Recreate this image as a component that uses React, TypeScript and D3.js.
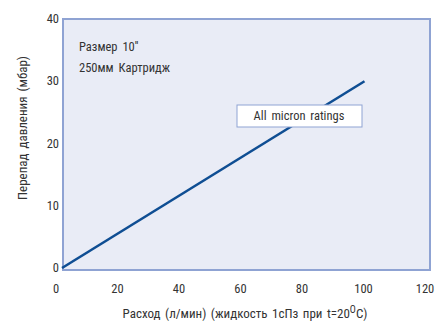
import React from "react";
import * as d3 from "d3";

const flowValues = [0, 100];
const pressureValues = [0, 30];
const xTicks = [0, 20, 40, 60, 80, 100, 120];
const yTicks = [0, 10, 20, 30, 40];
const infoLines = ["Размер 10''", "250мм Картридж"];
const seriesLabel = "All micron ratings";
const yTitle = "Перепад давления (мбар)";

const W = 437;
const H = 322;
const FONT = "'Liberation Sans Narrow', 'Arial Narrow', 'Roboto Condensed', Roboto, sans-serif";
const TXT = "#333";

export default function App() {
  const x = d3.scaleLinear().domain([0, 120]).range([62, 425]);
  const y = d3.scaleLinear().domain([0, 40]).range([268, 19]);
  const pts = flowValues.map((f, i) => [x(f), y(pressureValues[i])] as [number, number]);
  const line = d3.line()(pts) || "";
  const frameL = 63, frameR = 430, frameT = 19, frameB = 270;

  return (
    <div style={{ position: "absolute", left: 0, top: 0 }}>
      <svg width={W} height={H} style={{ display: "block", background: "#fff" }} fontFamily={FONT}>
        <rect x={frameL} y={frameT} width={frameR - frameL} height={frameB - frameT}
          fill="#E9ECF6" stroke="#8FA3D3" strokeWidth={2} />
        <path d={line} fill="none" stroke="#0F4E93" strokeWidth={2.6} />
        <rect x={237} y={105} width={125} height={22} fill="#fff" stroke="#8FA3D3" strokeWidth={1} />
        <text x={299} y={120} textAnchor="middle" fontSize={12.5} fill={TXT} wordSpacing={2}>{seriesLabel}</text>
        {infoLines.map((t, i) => (
          <text key={t} x={79} y={51 + i * 21} fontSize={12.5} fill={TXT} wordSpacing={2}>{t}</text>
        ))}
        {yTicks.map((t) => (
          <text key={t} x={59} y={y(t) + 4} textAnchor="end" fontSize={12.5} fill={TXT}>{t}</text>
        ))}
        {xTicks.map((t) => (
          <text key={t} x={x(t) - 6 + t * 0.05} y={293} textAnchor="middle" fontSize={12.5} fill={TXT}>{t}</text>
        ))}
        <text transform={`translate(27,128) rotate(-90)`} textAnchor="middle" fontSize={13} fill={TXT} wordSpacing={2}>{yTitle}</text>
        <text x={245} y={318} textAnchor="middle" fontSize={13} fill={TXT} wordSpacing={1.5}>
          Расход (л/мин) (жидкость 1сПз при t=20<tspan fontSize={10} dy={-5}>O</tspan><tspan dy={5}>C)</tspan>
        </text>
      </svg>
    </div>
  );
}
